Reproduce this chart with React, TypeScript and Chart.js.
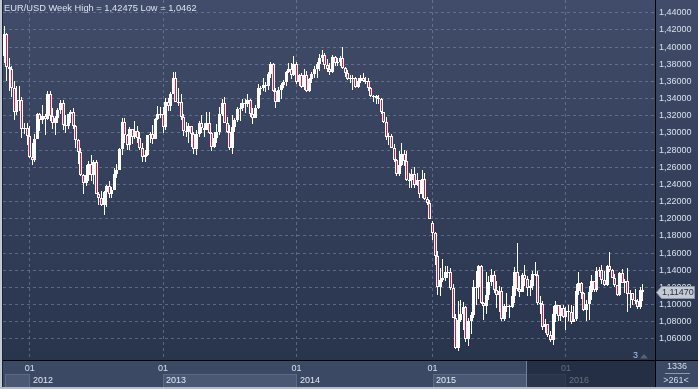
import React, { useEffect, useRef } from 'react';
import { Chart, registerables } from 'chart.js';

Chart.register(...registerables);

const FONT = '"Liberation Sans", Arial, sans-serif';
const TITLE = 'EUR/USD Week High = 1,42475 Low = 1,0462';

// Weekly candles, week of 24 Oct 2011 .. week of 1 Aug 2016
const opens = [
  1.3895, 1.4150, 1.3770, 1.3750, 1.3520, 1.3240, 1.3385, 1.3380, 1.3045, 1.3060,
  1.2960, 1.2720, 1.2680, 1.2930, 1.3220, 1.3150, 1.3195, 1.3160, 1.3450, 1.3200,
  1.3110, 1.3170, 1.3265, 1.3345, 1.3095, 1.3075, 1.3220, 1.3240, 1.3080, 1.2920,
  1.2780, 1.2515, 1.2415, 1.2505, 1.2640, 1.2515, 1.2665, 1.2290, 1.2245, 1.2155,
  1.2315, 1.2385, 1.2290, 1.2335, 1.2520, 1.2570, 1.2815, 1.3125, 1.2975, 1.2860,
  1.3040, 1.2955, 1.3025, 1.2940, 1.2830, 1.2715, 1.2740, 1.2975, 1.2985, 1.2925,
  1.3160, 1.3215, 1.3220, 1.3070, 1.3365, 1.3315, 1.3455, 1.3635, 1.3365, 1.3360,
  1.3190, 1.3020, 1.3005, 1.3075, 1.2985, 1.2815, 1.2990, 1.3110, 1.3055, 1.3035,
  1.3115, 1.2995, 1.2835, 1.2935, 1.3010, 1.3220, 1.3345, 1.3120, 1.3010, 1.2830,
  1.3065, 1.3145, 1.3280, 1.3285, 1.3345, 1.3335, 1.3380, 1.3220, 1.3175, 1.3295,
  1.3525, 1.3520, 1.3555, 1.3550, 1.3685, 1.3805, 1.3485, 1.3365, 1.3495, 1.3555,
  1.3590, 1.3705, 1.3740, 1.3675, 1.3800, 1.3590, 1.3670, 1.3540, 1.3680, 1.3485,
  1.3630, 1.3690, 1.3740, 1.3805, 1.3875, 1.3910, 1.3790, 1.3750, 1.3705, 1.3885,
  1.3815, 1.3830, 1.3870, 1.3760, 1.3700, 1.3625, 1.3635, 1.3645, 1.3540, 1.3600,
  1.3645, 1.3600, 1.3605, 1.3525, 1.3430, 1.3425, 1.3410, 1.3400, 1.3240, 1.3130,
  1.2950, 1.2965, 1.2830, 1.2685, 1.2520, 1.2630, 1.2760, 1.2670, 1.2455, 1.2450,
  1.2525, 1.2390, 1.2450, 1.2290, 1.2465, 1.2225, 1.2185, 1.1955, 1.1840, 1.1565,
  1.1205, 1.1290, 1.1315, 1.1385, 1.1380, 1.1195, 1.0845, 1.0495, 1.0820, 1.0890,
  1.0970, 1.0600, 1.0805, 1.0875, 1.1200, 1.1205, 1.1450, 1.1015, 1.0985, 1.1115,
  1.1265, 1.1350, 1.1165, 1.1110, 1.1160, 1.0830, 1.0985, 1.0980, 1.0970, 1.1105,
  1.1385, 1.1185, 1.1150, 1.1340, 1.1295, 1.1195, 1.1215, 1.1360, 1.1350, 1.1015,
  1.1005, 1.0740, 1.0770, 1.0645, 1.0590, 1.0885, 1.0990, 1.0865, 1.0965, 1.0860,
  1.0920, 1.0915, 1.0800, 1.0830, 1.1155, 1.1255, 1.1130, 1.0935, 1.1005, 1.1150,
  1.1270, 1.1165, 1.1390, 1.1400, 1.1285, 1.1225, 1.1455, 1.1400, 1.1310, 1.1225,
  1.1115, 1.1365, 1.1255, 1.1280, 1.1120, 1.1135, 1.1050, 1.1040, 1.0975, 1.1175,
];

const highs = [
  1.42475, 1.4160, 1.3870, 1.3780, 1.3600, 1.3550, 1.3550, 1.3420, 1.3120, 1.3120,
  1.3080, 1.2880, 1.2985, 1.3235, 1.3235, 1.3320, 1.3220, 1.3485, 1.3485, 1.3290,
  1.3200, 1.3295, 1.3385, 1.3385, 1.3205, 1.3225, 1.3265, 1.3285, 1.3095, 1.2925,
  1.2825, 1.2525, 1.2625, 1.2670, 1.2745, 1.2690, 1.2690, 1.2315, 1.2325, 1.2325,
  1.2390, 1.2445, 1.2375, 1.2590, 1.2640, 1.2825, 1.3170, 1.3170, 1.2990, 1.3065,
  1.3050, 1.3140, 1.3075, 1.3015, 1.2880, 1.2800, 1.2980, 1.3015, 1.3095, 1.3175,
  1.3310, 1.3300, 1.3300, 1.3405, 1.3405, 1.3480, 1.3710, 1.3710, 1.3520, 1.3455,
  1.3215, 1.3130, 1.3110, 1.3080, 1.3010, 1.3035, 1.3140, 1.3205, 1.3110, 1.3245,
  1.3240, 1.3010, 1.3005, 1.3105, 1.3305, 1.3390, 1.3420, 1.3180, 1.3095, 1.3210,
  1.3175, 1.3300, 1.3345, 1.3400, 1.3390, 1.3450, 1.3395, 1.3285, 1.3325, 1.3570,
  1.3550, 1.3645, 1.3595, 1.3705, 1.3830, 1.3815, 1.3525, 1.3530, 1.3580, 1.3620,
  1.3720, 1.3810, 1.3810, 1.3895, 1.3830, 1.3690, 1.3700, 1.3740, 1.3720, 1.3640,
  1.3715, 1.3775, 1.3825, 1.3915, 1.3965, 1.3925, 1.3855, 1.3810, 1.3905, 1.3890,
  1.3875, 1.3890, 1.3995, 1.3765, 1.3735, 1.3670, 1.3670, 1.3650, 1.3645, 1.3680,
  1.3700, 1.3650, 1.3640, 1.3530, 1.3445, 1.3440, 1.3445, 1.3410, 1.3245, 1.3190,
  1.2995, 1.2990, 1.2865, 1.2700, 1.2790, 1.2885, 1.2800, 1.2790, 1.2535, 1.2580,
  1.2600, 1.2530, 1.2455, 1.2570, 1.2530, 1.2255, 1.2215, 1.1970, 1.1845, 1.1630,
  1.1425, 1.1535, 1.1445, 1.1450, 1.1430, 1.1245, 1.0885, 1.1045, 1.1050, 1.1035,
  1.0980, 1.0850, 1.0915, 1.1290, 1.1390, 1.1465, 1.1465, 1.1035, 1.1380, 1.1335,
  1.1410, 1.1390, 1.1280, 1.1215, 1.1200, 1.1005, 1.1130, 1.0995, 1.1215, 1.1440,
  1.1715, 1.1330, 1.1370, 1.1460, 1.1330, 1.1290, 1.1395, 1.1495, 1.1390, 1.1095,
  1.1045, 1.0830, 1.0780, 1.0690, 1.0985, 1.1045, 1.1000, 1.0995, 1.0995, 1.0975,
  1.0990, 1.0990, 1.0985, 1.1245, 1.1375, 1.1265, 1.1145, 1.1050, 1.1220, 1.1340,
  1.1275, 1.1440, 1.1435, 1.1465, 1.1395, 1.1460, 1.1615, 1.1415, 1.1355, 1.1230,
  1.1375, 1.1415, 1.1300, 1.1425, 1.1165, 1.1140, 1.1185, 1.1070, 1.1200, 1.1235,
];

const lows = [
  1.3815, 1.3610, 1.3485, 1.3420, 1.3145, 1.3210, 1.3260, 1.2945, 1.2990, 1.2860,
  1.2705, 1.2625, 1.2660, 1.2930, 1.3020, 1.3105, 1.2975, 1.3150, 1.3135, 1.3050,
  1.2975, 1.3120, 1.3215, 1.3035, 1.3000, 1.3040, 1.3115, 1.3050, 1.2825, 1.2640,
  1.2495, 1.2290, 1.2385, 1.2440, 1.2440, 1.2405, 1.2285, 1.2165, 1.2145, 1.2040,
  1.2135, 1.2240, 1.2240, 1.2330, 1.2475, 1.2565, 1.2740, 1.2880, 1.2800, 1.2800,
  1.2875, 1.2925, 1.2880, 1.2800, 1.2660, 1.2660, 1.2735, 1.2880, 1.2875, 1.2925,
  1.3155, 1.3170, 1.2995, 1.3030, 1.3255, 1.3255, 1.3450, 1.3355, 1.3315, 1.3145,
  1.2965, 1.2955, 1.2880, 1.2840, 1.2750, 1.2745, 1.2950, 1.3000, 1.2955, 1.3030,
  1.2990, 1.2795, 1.2830, 1.2880, 1.2975, 1.3200, 1.3115, 1.2995, 1.2805, 1.2755,
  1.3005, 1.3130, 1.3135, 1.3255, 1.3230, 1.3305, 1.3180, 1.3105, 1.3170, 1.3275,
  1.3440, 1.3490, 1.3475, 1.3505, 1.3645, 1.3475, 1.3295, 1.3360, 1.3400, 1.3525,
  1.3545, 1.3700, 1.3625, 1.3660, 1.3570, 1.3550, 1.3525, 1.3505, 1.3475, 1.3475,
  1.3585, 1.3640, 1.3640, 1.3720, 1.3830, 1.3750, 1.3705, 1.3675, 1.3700, 1.3780,
  1.3780, 1.3775, 1.3750, 1.3650, 1.3615, 1.3585, 1.3505, 1.3525, 1.3525, 1.3580,
  1.3590, 1.3575, 1.3490, 1.3420, 1.3365, 1.3335, 1.3335, 1.3215, 1.3110, 1.2920,
  1.2860, 1.2825, 1.2665, 1.2500, 1.2500, 1.2620, 1.2615, 1.2440, 1.2360, 1.2360,
  1.2360, 1.2385, 1.2245, 1.2245, 1.2220, 1.2165, 1.1995, 1.1755, 1.1460, 1.1115,
  1.1100, 1.1260, 1.1270, 1.1315, 1.1175, 1.0840, 1.0485, 1.0462, 1.0800, 1.0710,
  1.0565, 1.0520, 1.0660, 1.0850, 1.1000, 1.1070, 1.1010, 1.0820, 1.0885, 1.1050,
  1.1215, 1.1135, 1.0955, 1.0915, 1.0810, 1.0810, 1.0915, 1.0850, 1.0960, 1.1015,
  1.1160, 1.1085, 1.1145, 1.1215, 1.1105, 1.1105, 1.1165, 1.1330, 1.1000, 1.0895,
  1.0705, 1.0675, 1.0620, 1.0560, 1.0525, 1.0795, 1.0805, 1.0805, 1.0850, 1.0710,
  1.0805, 1.0775, 1.0795, 1.0810, 1.1115, 1.1065, 1.0925, 1.0810, 1.0820, 1.1055,
  1.1145, 1.1145, 1.1325, 1.1235, 1.1215, 1.1215, 1.1385, 1.1305, 1.1200, 1.1100,
  1.1095, 1.1250, 1.1130, 1.0910, 1.0965, 1.1000, 1.1005, 1.0950, 1.0950, 1.1045,
];

const closes = [
  1.4150, 1.3770, 1.3750, 1.3520, 1.3240, 1.3385, 1.3380, 1.3045, 1.3060, 1.2960,
  1.2720, 1.2680, 1.2930, 1.3220, 1.3150, 1.3195, 1.3160, 1.3450, 1.3200, 1.3110,
  1.3170, 1.3265, 1.3345, 1.3095, 1.3075, 1.3220, 1.3240, 1.3080, 1.2920, 1.2780,
  1.2515, 1.2415, 1.2505, 1.2640, 1.2515, 1.2665, 1.2290, 1.2245, 1.2155, 1.2315,
  1.2385, 1.2290, 1.2335, 1.2520, 1.2570, 1.2815, 1.3125, 1.2975, 1.2860, 1.3040,
  1.2955, 1.3025, 1.2940, 1.2830, 1.2715, 1.2740, 1.2975, 1.2985, 1.2925, 1.3160,
  1.3215, 1.3220, 1.3070, 1.3365, 1.3315, 1.3455, 1.3635, 1.3365, 1.3360, 1.3190,
  1.3020, 1.3005, 1.3075, 1.2985, 1.2815, 1.2990, 1.3110, 1.3055, 1.3035, 1.3115,
  1.2995, 1.2835, 1.2935, 1.3010, 1.3220, 1.3345, 1.3120, 1.3010, 1.2830, 1.3065,
  1.3145, 1.3280, 1.3285, 1.3345, 1.3335, 1.3380, 1.3220, 1.3175, 1.3295, 1.3525,
  1.3520, 1.3555, 1.3550, 1.3685, 1.3805, 1.3485, 1.3365, 1.3495, 1.3555, 1.3590,
  1.3705, 1.3740, 1.3675, 1.3800, 1.3590, 1.3670, 1.3540, 1.3680, 1.3485, 1.3630,
  1.3690, 1.3740, 1.3805, 1.3875, 1.3910, 1.3790, 1.3750, 1.3705, 1.3885, 1.3815,
  1.3830, 1.3870, 1.3760, 1.3700, 1.3625, 1.3635, 1.3645, 1.3540, 1.3600, 1.3645,
  1.3600, 1.3605, 1.3525, 1.3430, 1.3425, 1.3410, 1.3400, 1.3240, 1.3130, 1.2950,
  1.2965, 1.2830, 1.2685, 1.2520, 1.2630, 1.2760, 1.2670, 1.2455, 1.2450, 1.2525,
  1.2390, 1.2450, 1.2290, 1.2465, 1.2225, 1.2185, 1.2000, 1.1840, 1.1565, 1.1205,
  1.1290, 1.1315, 1.1385, 1.1380, 1.1195, 1.0845, 1.0495, 1.0820, 1.0890, 1.0970,
  1.0600, 1.0805, 1.0875, 1.1200, 1.1205, 1.1450, 1.1015, 1.0985, 1.1115, 1.1265,
  1.1350, 1.1165, 1.1110, 1.1160, 1.0830, 1.0985, 1.0980, 1.0970, 1.1105, 1.1385,
  1.1185, 1.1150, 1.1340, 1.1295, 1.1195, 1.1215, 1.1360, 1.1350, 1.1015, 1.1005,
  1.0740, 1.0770, 1.0645, 1.0590, 1.0885, 1.0990, 1.0865, 1.0965, 1.0860, 1.0920,
  1.0915, 1.0800, 1.0830, 1.1155, 1.1255, 1.1130, 1.0935, 1.1005, 1.1150, 1.1270,
  1.1165, 1.1390, 1.1400, 1.1285, 1.1225, 1.1455, 1.1400, 1.1310, 1.1225, 1.1115,
  1.1365, 1.1255, 1.1280, 1.1120, 1.1135, 1.1050, 1.1040, 1.0975, 1.1175, 1.1147,
];

// index of first weekly bar of each year
const yearTickIdx = [10, 62, 114, 167, 219];
const yearLabels = ['2012', '2013', '2014', '2015', '2016'];
const monthLabel = '01';
const yTicks = [1.06, 1.08, 1.10, 1.12, 1.14, 1.16, 1.18, 1.20, 1.22, 1.24, 1.26, 1.28, 1.30, 1.32, 1.34, 1.36, 1.38, 1.40, 1.42, 1.44];
const lastPrice = 1.1147;
const barsTotal = '1336';
const barsVisible = '>261<';
const markerCount = '3';

const RED = '#e0173f';
const GRID = 'rgba(128,143,175,0.55)';
const LABEL = '#d6e0ee';

const fmt = (v: number, d: number) => v.toFixed(d).replace('.', ',');

const crispPlugin = {
  id: 'crisp',
  beforeDatasetsDraw(chart: any) {
    chart.data.datasets.forEach((_: any, di: number) => {
      const meta = chart.getDatasetMeta(di);
      meta.data.forEach((el: any) => {
        el.x = Math.floor(el.x) + 0.5;
        const top = Math.round(Math.min(el.y, el.base));
        const bot = Math.round(Math.max(el.y, el.base));
        el.y = top;
        el.base = Math.max(bot, top + 1);
      });
    });
  },
};

const framePlugin = {
  id: 'frame',
  beforeDraw(chart: any) {
    const { ctx, width, height, chartArea: ca } = chart;
    const xs = chart.scales.x;
    ctx.save();
    ctx.fillStyle = '#3c4964';
    ctx.fillRect(0, 0, width, height);
    const g = ctx.createLinearGradient(0, 0, 0, ca.bottom);
    g.addColorStop(0, '#404c69');
    g.addColorStop(1, '#29344d');
    ctx.fillStyle = g;
    ctx.fillRect(ca.left, 0, width - ca.left, ca.bottom);
    // year boxes
    const px = yearTickIdx.map((v) => Math.round(xs.getPixelForValue(v)));
    const bounds = [ca.left + 2, ...px, ca.right];
    for (let i = 0; i < bounds.length - 1; i++) {
      if (i % 2 === 0) {
        const x0 = bounds[i];
        const x1 = bounds[i + 1];
        ctx.fillStyle = '#4a5874';
        ctx.fillRect(x0, 374, x1 - x0, 14);
        ctx.strokeStyle = '#5b6a87';
        ctx.lineWidth = 1;
        ctx.strokeRect(x0 + 0.5, 374.5, x1 - x0 - 1, 13);
      }
    }
    ctx.font = `9px ${FONT}`;
    ctx.fillStyle = '#e2e9f4';
    ctx.textBaseline = 'middle';
    ctx.textAlign = 'left';
    yearLabels.forEach((t, k) => ctx.fillText(t, px[k] + 3, 381));
    ctx.restore();
  },
  afterDraw(chart: any) {
    const { ctx, width, height, chartArea: ca } = chart;
    const ys = chart.scales.y;
    ctx.save();
    // dimmed future region in the time axis
    ctx.fillStyle = 'rgba(22,30,48,0.62)';
    ctx.fillRect(526, ca.bottom + 1, ca.right - 526, height - ca.bottom - 3);
    ctx.fillStyle = '#74819a';
    ctx.fillRect(526, ca.bottom + 1, 1, height - ca.bottom - 3);
    // separators
    ctx.fillStyle = '#000000';
    ctx.fillRect(ca.right, 0, 1, height);
    ctx.fillRect(2, ca.bottom, width - 2, 1);
    // outer frame
    ctx.fillStyle = '#1d2535';
    ctx.fillRect(2, 0, 1, height);
    ctx.fillStyle = '#c2cad6';
    ctx.fillRect(0, 0, 2, height);
    ctx.fillStyle = '#b3bcc9';
    ctx.fillRect(0, height - 2, width, 2);
    // title
    ctx.font = `9.3px ${FONT}`;
    ctx.fillStyle = '#dbe3ef';
    ctx.textBaseline = 'middle';
    ctx.textAlign = 'left';
    ctx.fillText(TITLE, 4, 8.5);
    // marker
    ctx.font = `9px ${FONT}`;
    ctx.fillStyle = '#a8c6ec';
    ctx.fillText(markerCount, 633, 355.5);
    ctx.fillStyle = '#56627a';
    ctx.beginPath();
    ctx.moveTo(640, 358.5);
    ctx.lineTo(648, 358.5);
    ctx.lineTo(644, 354);
    ctx.closePath();
    ctx.fill();
    // counts panel
    ctx.textAlign = 'center';
    ctx.fillStyle = '#d0dcec';
    ctx.fillText(barsTotal, 677, 367);
    ctx.fillStyle = '#8b9ab2';
    ctx.fillRect(665, 373, 25, 1);
    ctx.fillStyle = '#d0dcec';
    ctx.fillText(barsVisible, 676, 380.5);
    // price tag
    const y = Math.round(ys.getPixelForValue(lastPrice)) + 0.5;
    ctx.beginPath();
    ctx.moveTo(656.5, y);
    ctx.lineTo(661.5, y - 6);
    ctx.lineTo(694.5, y - 6);
    ctx.lineTo(694.5, y + 6);
    ctx.lineTo(661.5, y + 6);
    ctx.closePath();
    ctx.fillStyle = '#c6cad2';
    ctx.fill();
    ctx.strokeStyle = '#8e97a8';
    ctx.lineWidth = 1;
    ctx.stroke();
    ctx.textAlign = 'left';
    ctx.fillStyle = '#27304a';
    ctx.fillText(fmt(lastPrice, 5), 662, y);
    ctx.restore();
  },
};

export default function App() {
  const ref = useRef<HTMLCanvasElement | null>(null);

  useEffect(() => {
    if (!ref.current) return;
    const bodyData = closes.map((c, i) => ({ x: i, y: [opens[i], c] }));
    const wickData = closes.map((_, i) => ({ x: i, y: [lows[i], highs[i]] }));
    const chart = new Chart(ref.current, {
      type: 'bar',
      data: {
        datasets: [
          {
            label: 'body',
            data: bodyData as any,
            backgroundColor: closes.map((c, i) => (c < opens[i] ? RED : '#ffffff')),
            borderColor: '#ffffff',
            borderWidth: 1,
            borderSkipped: false,
            barThickness: 3,
            grouped: false,
            inflateAmount: 0,
            order: 1,
          } as any,
          {
            label: 'wick',
            data: wickData as any,
            backgroundColor: '#ffffff',
            borderWidth: 0,
            barThickness: 1,
            grouped: false,
            inflateAmount: 0,
            order: 2,
          } as any,
        ],
      },
      options: {
        responsive: false,
        animation: false,
        devicePixelRatio: 1,
        layout: { padding: { left: 3, right: 0, top: 0, bottom: 0 } },
        plugins: {
          legend: { display: false },
          tooltip: { enabled: false },
          title: { display: false },
        },
        scales: {
          x: {
            type: 'linear',
            min: -0.39,
            max: 253.7,
            offset: false,
            afterBuildTicks: (s: any) => {
              s.ticks = yearTickIdx.map((v) => ({ value: v }));
            },
            afterFit: (s: any) => {
              s.height = 29;
              s.paddingLeft = 0;
              s.paddingRight = 0;
            },
            ticks: {
              callback: () => monthLabel,
              color: LABEL,
              font: { size: 9, family: FONT },
              padding: 3,
              maxRotation: 0,
              autoSkip: false,
            },
            grid: { color: GRID, drawTicks: false, offset: false, lineWidth: 1 },
            border: { display: false, dash: [3, 3] },
          } as any,
          y: {
            position: 'right',
            min: 1.0355,
            max: 1.4548,
            afterBuildTicks: (s: any) => {
              s.ticks = yTicks.map((v) => ({ value: v }));
            },
            afterFit: (s: any) => {
              s.width = 43;
              s.paddingTop = 0;
              s.paddingBottom = 0;
            },
            ticks: {
              callback: (v: any) => fmt(Number(v), 5),
              color: LABEL,
              font: { size: 9, family: FONT },
              padding: 4,
              autoSkip: false,
            },
            grid: { color: GRID, drawTicks: false, lineWidth: 1 },
            border: { display: false, dash: [3, 3] },
          } as any,
        },
      },
      plugins: [framePlugin, crispPlugin],
    });
    return () => chart.destroy();
  }, []);

  return (
    <div style={{ position: 'fixed', left: 0, top: 0, width: 698, height: 389 }}>
      <canvas ref={ref} width={698} height={389} style={{ display: 'block', width: 698, height: 389 }} />
    </div>
  );
}
